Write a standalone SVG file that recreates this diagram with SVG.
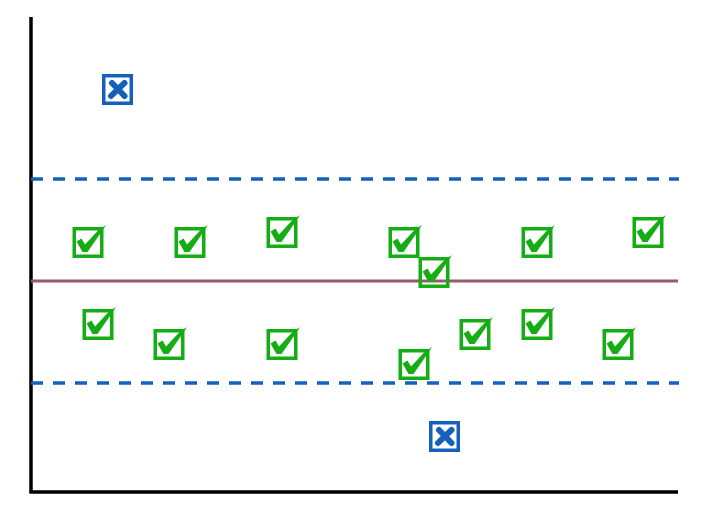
<svg xmlns="http://www.w3.org/2000/svg" xmlns:xlink="http://www.w3.org/1999/xlink" width="721" height="515" viewBox="0 0 721 515">
<style>
.axis{stroke:#000;stroke-width:3.5;fill:none}
.dash{stroke:#1560bd;stroke-width:3.5;stroke-dasharray:12 10;fill:none}
.mid{stroke:#9a5a6c;stroke-width:3;fill:none}
.ok rect{fill:none;stroke:#14ad14;stroke-width:3.5}
.ok path{fill:#14ad14}
.bad rect{fill:none;stroke:#1560bd;stroke-width:3.5}
.bad path{stroke:#1560bd;stroke-width:6;stroke-linecap:round;fill:none}
</style>
<defs>
<g id="chk" class="ok">
<rect x="-13.75" y="-13.75" width="27.5" height="27.5"/>
<path d="M-11.5,-1 L-6.5,-4 L-3,2 L11,-13 L18,-17.5 L12,-8.5 L-0.5,9.5 L-5.5,9.5 Z"/>
</g>
<g id="crs" class="bad">
<rect x="-13.75" y="-13.75" width="27.5" height="27.5"/>
<path d="M-5.5,-6.5 Q0,-1 7,6.5 M7,-6.5 Q0,0 -6.5,6.5"/>
</g>
</defs>
<rect width="721" height="515" fill="#fff"/>
<g id="connectors">
<line class="axis" x1="31" y1="17" x2="31" y2="493"/>
<line class="axis" x1="29.5" y1="492" x2="678" y2="492"/>
<line class="dash" x1="31" y1="179" x2="679" y2="179"/>
<line class="dash" x1="31" y1="383" x2="679" y2="383"/>
<line class="mid" x1="31" y1="281" x2="678" y2="281"/>
</g>
<g id="x1"><use xlink:href="#crs" x="117.5" y="89.5"/></g>
<g id="x2"><use xlink:href="#crs" x="444.5" y="436.5"/></g>
<g id="c1"><use xlink:href="#chk" x="88" y="242.5"/></g>
<g id="c2"><use xlink:href="#chk" x="190" y="242.5"/></g>
<g id="c3"><use xlink:href="#chk" x="282" y="232.5"/></g>
<g id="c4"><use xlink:href="#chk" x="404" y="242.5"/></g>
<g id="c5"><use xlink:href="#chk" x="434" y="272.5"/></g>
<g id="c6"><use xlink:href="#chk" x="537" y="242.5"/></g>
<g id="c7"><use xlink:href="#chk" x="648" y="232.5"/></g>
<g id="c8"><use xlink:href="#chk" x="98" y="324.5"/></g>
<g id="c9"><use xlink:href="#chk" x="169" y="344.5"/></g>
<g id="c10"><use xlink:href="#chk" x="282" y="344.5"/></g>
<g id="c11"><use xlink:href="#chk" x="414" y="364.5"/></g>
<g id="c12"><use xlink:href="#chk" x="475" y="334.5"/></g>
<g id="c13"><use xlink:href="#chk" x="537" y="324.5"/></g>
<g id="c14"><use xlink:href="#chk" x="618" y="344.5"/></g>
</svg>
